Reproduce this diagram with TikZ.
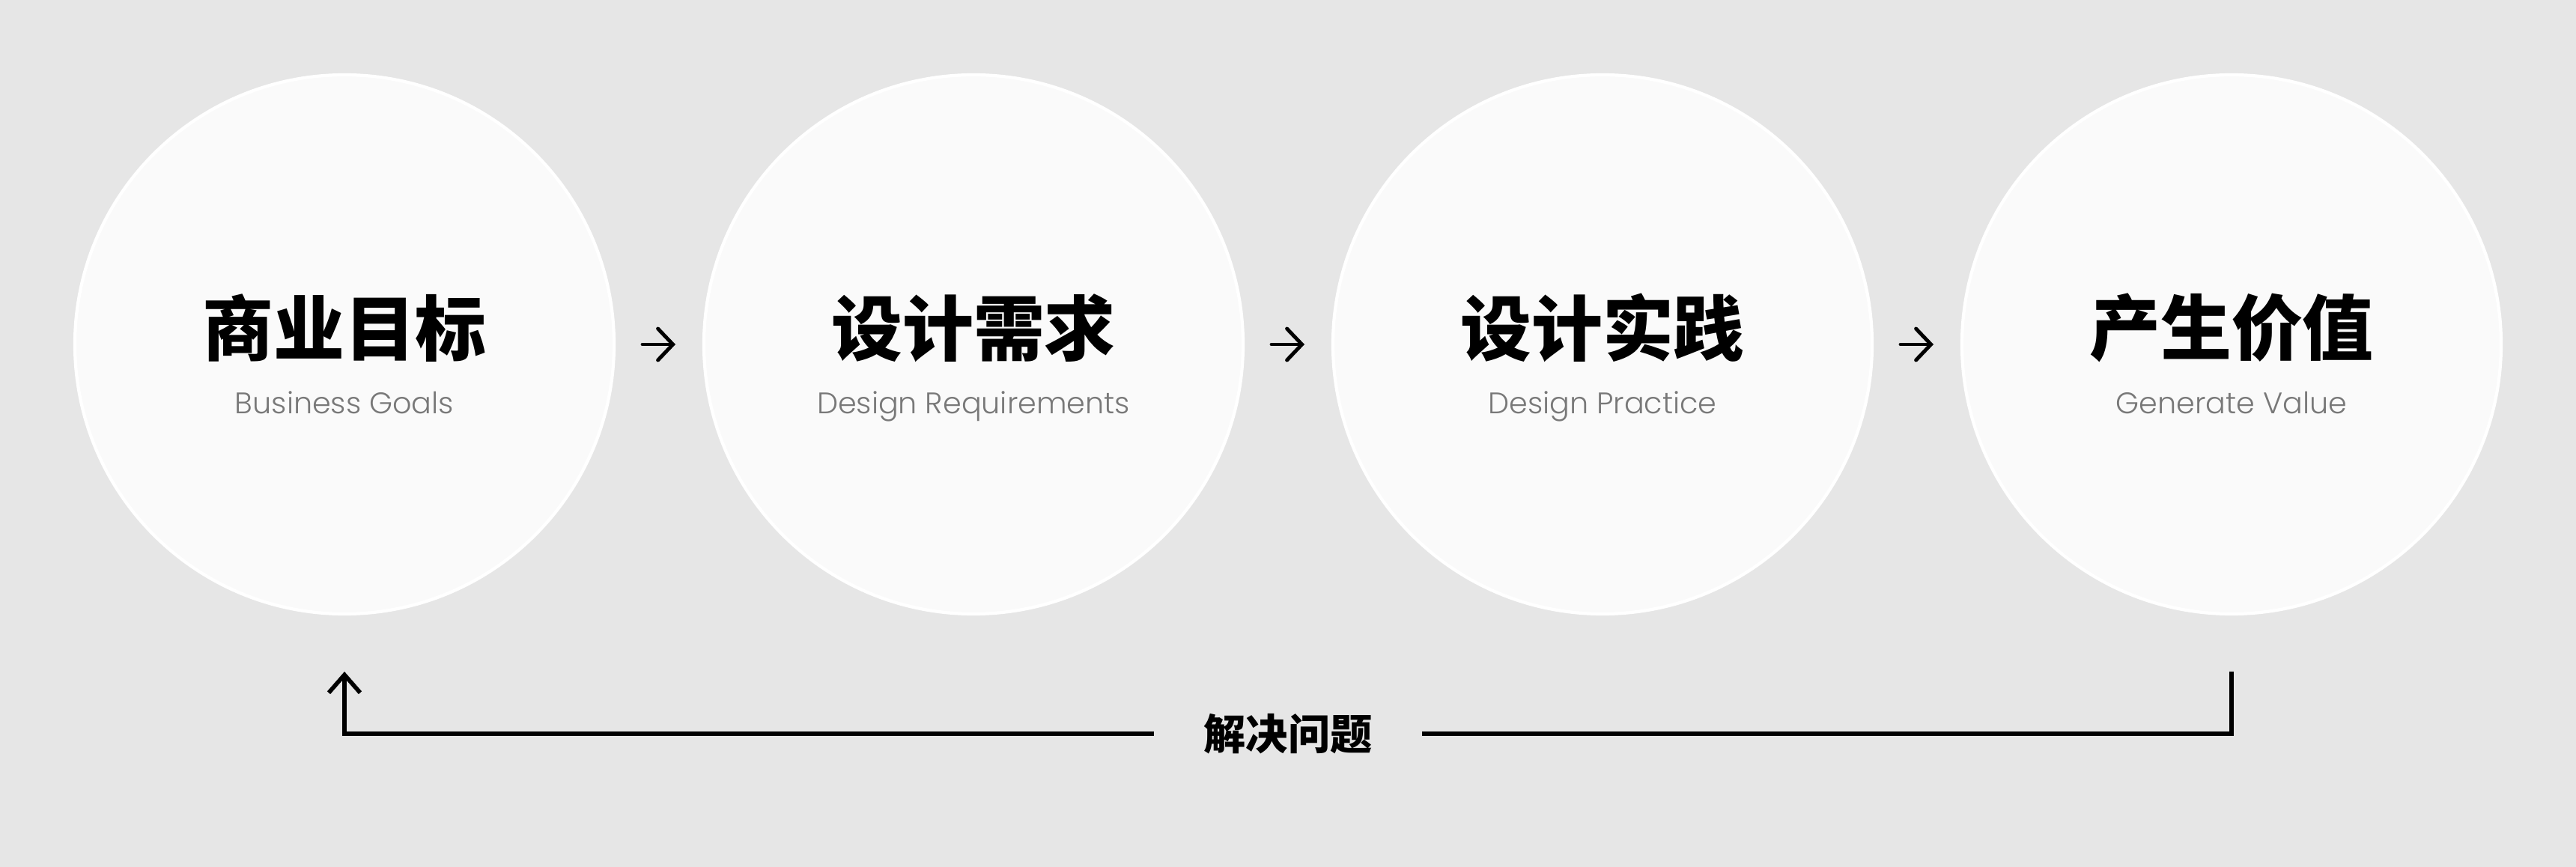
\documentclass[tikz,border=0pt]{standalone}
\usepackage{fontspec}
\usepackage{tikz}
\usetikzlibrary{positioning}
\usetikzlibrary{arrows.meta}
\newfontfamily\cjk{Noto Sans CJK SC}
\newfontfamily\latin{Poppins}[UprightFont=* Light]
\definecolor{bggray}{HTML}{E6E6E6}
\definecolor{discfill}{HTML}{FAFAFA}
\definecolor{subgray}{HTML}{787878}

\tikzset{
    disc/.style={circle, draw=white, line width=1.2pt, fill=discfill, minimum size=7.2cm, inner sep=0pt, outer sep=0pt},
    title/.style={font=\cjk\bfseries\fontsize{27pt}{27pt}\selectfont},
    subtitle/.style={font=\latin\fontsize{11.3pt}{11.3pt}\selectfont, text=subgray, anchor=base},
    flow/.style={-{Straight Barb[length=2mm, width=4.2mm, line cap=round]}, line width=1.4pt, line cap=round, shorten <=3.8mm, shorten >=3.8mm},
    back/.style={line width=1.6pt},
    loop label/.style={font=\cjk\bfseries\fontsize{16pt}{16pt}\selectfont, inner xsep=6.6mm, inner ysep=0pt}
}

\begin{document}
\begin{tikzpicture}

                % Background
                \fill[bggray] (0,0) rectangle (34.4,-11.58);
                \useasboundingbox (0,0) rectangle (34.4,-11.58);

                % Nodes
                \node at (4.6,-4.6) (goals) [disc] {};
                \node at (13,-4.6) (needs) [disc] {};
                \node at (21.4,-4.6) (practice) [disc] {};
                \node at (29.8,-4.6) (value) [disc] {};

                \node at (4.6,-4.38) (goals title) [title] {商业目标};
                \node at (13,-4.38) (needs title) [title] {设计需求};
                \node at (21.4,-4.38) (practice title) [title] {设计实践};
                \node at (29.8,-4.38) (value title) [title] {产生价值};

                \node at (4.6,-5.53) (goals sub) [subtitle] {Business Goals};
                \node at (13,-5.53) (needs sub) [subtitle] {Design Requirements};
                \node at (21.4,-5.53) (practice sub) [subtitle] {Design Practice};
                \node at (29.8,-5.53) (value sub) [subtitle] {Generate Value};

                \node at (17.2,-9.8) (solve) [loop label] {解决问题};
                \coordinate (rise) at (4.6,-8.97);
                \coordinate (drop) at (29.8,-8.97);

                % Arrows
                \draw[flow] (goals) -- (needs);
                \draw[flow] (needs) -- (practice);
                \draw[flow] (practice) -- (value);

                % Loop back under the circles
                \draw[back] (drop) |- (solve.east);
                \draw[back, -{Straight Barb[length=2.4mm, width=4.2mm]}] (solve.west) -| (rise);

\end{tikzpicture}
\end{document}
